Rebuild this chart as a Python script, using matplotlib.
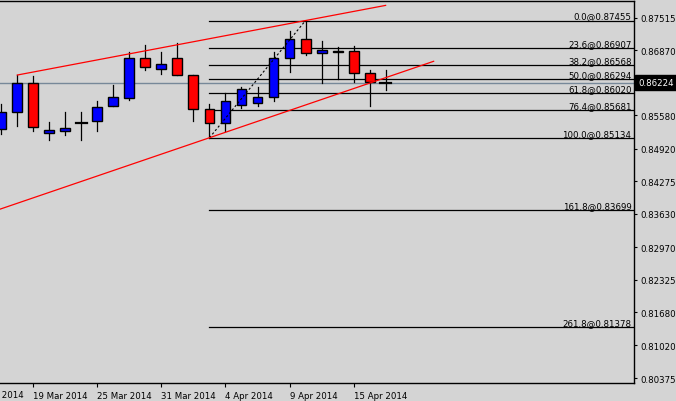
import numpy as np
import matplotlib.pyplot as plt
from matplotlib.patches import Rectangle
from matplotlib.transforms import blended_transform_factory

# daily candles, oldest first (bar 0 is the one cut by the left edge)
opens = [0.85307, 0.85638, 0.86212, 0.85222, 0.85262, 0.85420, 0.85471, 0.85757, 0.85927,
         0.86707, 0.86489, 0.86707, 0.86370, 0.85697, 0.85420, 0.85776, 0.85816, 0.85935,
         0.86707, 0.87083, 0.86806, 0.86826, 0.86846, 0.86410, 0.86224]
highs = [0.85802, 0.86376, 0.86351, 0.85440, 0.85638, 0.85638, 0.85856, 0.86178, 0.86838,
         0.86970, 0.86826, 0.87010, 0.86370, 0.85796, 0.86014, 0.86133, 0.86133, 0.86826,
         0.87248, 0.87455, 0.87044, 0.86925, 0.86945, 0.86481, 0.86481]
lows = [0.85208, 0.85372, 0.85273, 0.85095, 0.85194, 0.85095, 0.85273, 0.85757, 0.85887,
        0.86481, 0.86396, 0.86370, 0.85460, 0.85134, 0.85267, 0.85729, 0.85757, 0.85856,
        0.86442, 0.86767, 0.86224, 0.86291, 0.86244, 0.85769, 0.86085]
closes = [0.85644, 0.86212, 0.85341, 0.85287, 0.85321, 0.85420, 0.85737, 0.85935, 0.86707,
          0.86529, 0.86588, 0.86370, 0.85697, 0.85420, 0.85856, 0.86093, 0.85935, 0.86707,
          0.87083, 0.86806, 0.86866, 0.86846, 0.86410, 0.86232, 0.86224]

date_pos = [-2, 2, 6, 10, 14, 18, 22]
date_labels = ['13 Mar 2014', '19 Mar 2014', '25 Mar 2014', '31 Mar 2014',
               '4 Apr 2014', '9 Apr 2014', '15 Apr 2014']

price_ticks = [0.87515, 0.86870, 0.85580, 0.84920, 0.84275, 0.83630,
               0.82970, 0.82325, 0.81680, 0.81020, 0.80375]
last_price = 0.86224

# fibonacci retracement, drawn from bar 13 low to bar 19 high
fib_pct = ['0.0', '23.6', '38.2', '50.0', '61.8', '76.4', '100.0', '161.8', '261.8']
fib_price = [0.87455, 0.86907, 0.86568, 0.86294, 0.86020, 0.85681, 0.85134, 0.83699, 0.81378]
fib_anchor_x = [13, 19]
fib_anchor_y = [0.85134, 0.87455]

# red trendlines (bar index, price at each end)
upper_x = [1, 24]
upper_y = [0.86376, 0.87755]
lower_x = [-2, 27]
lower_y = [0.83512, 0.86648]

bg = '#d4d4d4'
plt.rcParams['font.family'] = 'DejaVu Sans'
plt.rcParams['font.size'] = 6.2

fig = plt.figure(figsize=(6.76, 4.02), dpi=100, facecolor=bg)
ax = fig.add_axes([0, 18 / 402, 633.5 / 676, 382 / 402], facecolor=bg)

# candles
for i in range(len(opens)):
    o, h, l, c = opens[i], highs[i], lows[i], closes[i]
    ax.plot([i, i], [l, h], color='black', lw=0.9, zorder=3)
    if o == c:
        ax.plot([i - 0.33, i + 0.33], [o, o], color='black', lw=1.6, zorder=4)
        continue
    col = 'blue' if c > o else 'red'
    ax.add_patch(Rectangle((i - 0.31, min(o, c)), 0.62, abs(c - o),
                           facecolor=col, edgecolor='black', lw=1.0, zorder=4))

# current price line
ax.axhline(last_price, color='#778899', lw=1.0, zorder=1)

# fibo levels
trans = blended_transform_factory(ax.transAxes, ax.transData)
for pct, p in zip(fib_pct, fib_price):
    ax.plot([fib_anchor_x[0], 60], [p, p], color='black', lw=0.9, zorder=2)
    ax.annotate(pct + '@' + '%.5f' % p, xy=(1, p), xycoords=trans, xytext=(-2, 2),
                textcoords='offset pixels', ha='right', va='baseline', color='black')
ax.plot(fib_anchor_x, fib_anchor_y, color='black', lw=0.8, ls=(0, (2, 2)), zorder=5)

# trendlines
ax.plot(upper_x, upper_y, color='red', lw=0.9, zorder=5)
ax.plot(lower_x, lower_y, color='red', lw=0.9, zorder=5)

# axes look
ax.spines['left'].set_visible(False)
for s in ['top', 'right', 'bottom']:
    ax.spines[s].set_linewidth(1.0)

ax.yaxis.tick_right()
ax.set_yticks(price_ticks)
ax.set_yticklabels(['%.5f' % p for p in price_ticks])
ax.tick_params(axis='y', length=2.5, width=0.8, pad=2.5, colors='black')

ax.set_xticks(date_pos[1:])
ax.set_xticklabels(date_labels[1:], ha='left')
ax.tick_params(axis='x', length=3, width=0.8, pad=2.5, colors='black')

# limits after the ticks, so the ticks do not widen the view
ax.set_xlim(-1.3 / 16, (633 - 1.3) / 16)
ax.set_ylim(0.80277, 0.87842)

# label of the first date, cut off by the left edge
ax.annotate(date_labels[0], xy=(date_pos[0], 0), xycoords=('data', 'axes fraction'),
            xytext=(0, -7.5), textcoords='offset pixels', ha='left', va='top',
            annotation_clip=False)

# black box with the last price
ax.annotate('%.5f' % last_price, xy=(1, last_price), xycoords=trans, xytext=(5, 0),
            textcoords='offset pixels', ha='left', va='center', color='white',
            bbox=dict(boxstyle='square,pad=0.35', fc='black', ec='black'))

fig.savefig('out.png', dpi=100, facecolor=bg)
